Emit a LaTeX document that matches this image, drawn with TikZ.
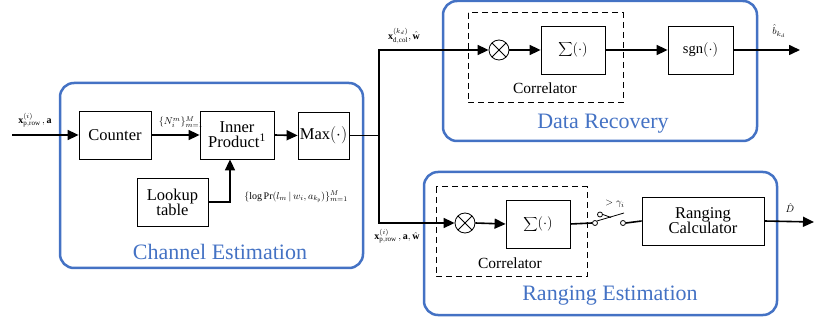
\documentclass[tikz,border=0pt]{standalone}
\usepackage{fontspec}
\setmainfont{Liberation Serif}
\usetikzlibrary{arrows.meta,calc}
\definecolor{pblue}{RGB}{68,114,196}
\tikzset{
  blk/.style={draw,line width=0.8pt,align=center,inner sep=1pt,font=\fontsize{16.5}{17}\selectfont},
  grp/.style={draw=pblue,line width=2.5pt,rounded corners=14pt},
  grplabel/.style={text=pblue,font=\fontsize{22}{23}\selectfont},
  dbox/.style={draw,dashed,line width=1pt,dash pattern=on 6pt off 4pt},
  wire/.style={line width=1.6pt},
  arr/.style={wire,-{Triangle[length=11pt,width=10pt]}},
  mlab/.style={font=\fontsize{10}{11}\selectfont,inner sep=0pt},
  mult/.style={draw,circle,line width=0.8pt,minimum size=20pt,inner sep=0pt,
    path picture={\draw[line width=0.8pt] (path picture bounding box.north west)--(path picture bounding box.south east)
      (path picture bounding box.north east)--(path picture bounding box.south west);}},
  contact/.style={draw,circle,line width=0.8pt,fill=white,minimum size=5pt,inner sep=0pt},
}
\begin{document}
\begin{tikzpicture}[x=1pt,y=-1pt]
\useasboundingbox (0,0) rectangle (815,326);
% group boxes
\node[grp,minimum width=303pt,minimum height=185pt] (ce) at (211.5,175.5) {};
\node[grp,minimum width=314pt,minimum height=140pt] (dr) at (600,71) {};
\node[grp,minimum width=353pt,minimum height=143pt] (re) at (600.5,243.5) {};
\node[grplabel] (cel) at (220,252) {Channel Estimation};
\node[grplabel] (drl) at (603,124) {Data Recovery};
\node[grplabel] (rel) at (610,296) {Ranging Estimation};
% channel estimation blocks
\node[blk,minimum width=72pt,minimum height=48pt] (counter) at (115,135) {Counter};
\node[blk,minimum width=74pt,minimum height=48pt] (inner) at (237,135) {Inner\\[-2pt]Product\textsuperscript{1}};
\node[blk,minimum width=51pt,minimum height=47pt] (maxn) at (323.5,135.5) {Max$(\cdot)$};
\node[blk,minimum width=71pt,minimum height=48pt] (lookup) at (172.5,202) {Lookup\\[-2pt]table};
\coordinate (in) at (12,135);
\draw[arr] (in) -- (counter.west);
\draw[arr] (counter.east) -- (inner.west);
\draw[arr] (inner.east) -- (maxn.west);
\draw[arr] (lookup.east) -| ([xshift=-7pt]inner.south);
\node[mlab] (l1) at (35,120) {$\mathbf{x}_{\mathrm{p,row}}^{(i)}\,,\mathbf{a}$};
\node[mlab] (l2) at (181,122) {$\{N_i^m\}_{m=1}^{M}$};
\node[mlab] (l3) at (296,197) {$\{\log\mathrm{Pr}(l_m\,|\,w_i,a_{k_{\mathrm{p}}})\}_{m=1}^{M}$};
% split
\coordinate (j) at (379,135.5);
\draw[wire] (maxn.east) -- (j);
% data recovery
\draw[dbox] (468,13) rectangle (623,103);
\node[font=\fontsize{15.5}{16}\selectfont] (cor1) at (545,88) {Correlator};
\node[mult] (m1) at (499,50) {};
\node[blk,minimum width=64pt,minimum height=48pt,font=\fontsize{15}{16}\selectfont] (s1) at (573,50) {$\displaystyle\sum(\cdot)$};
\node[blk,minimum width=65pt,minimum height=48pt,font=\fontsize{14.5}{15}\selectfont] (sgn) at (700.5,50) {sgn$(\cdot)$};
\coordinate (o1) at (800,50);
\draw[arr] (j) |- (m1.west);
\draw[arr] (m1.east) -- (s1.west);
\draw[arr] (s1.east) -- (sgn.west);
\draw[arr] (sgn.east) -- (o1);
\node[mlab] (l4) at (404,36) {$\mathbf{x}_{\mathrm{d,col}}^{(k_d)},\hat{\mathbf{w}}$};
\node[mlab] (l5) at (779,31) {$\hat{b}_{k_d}$};
% ranging estimation
\draw[dbox] (436,187) rectangle (587,277);
\node[font=\fontsize{15.5}{16}\selectfont] (cor2) at (510,263) {Correlator};
\node[mult] (m2) at (465,223) {};
\node[blk,minimum width=64pt,minimum height=48pt,font=\fontsize{15}{16}\selectfont] (s2) at (538,224) {$\displaystyle\sum(\cdot)$};
\node[blk,minimum width=122pt,minimum height=48pt] (calc) at (703,221) {Ranging\\[-2pt]Calculator};
\coordinate (o2) at (814,222);
\draw[arr] (j) |- (m2.west);
\draw[arr] (m2.east) -- (s2.west);
\node[contact] (swa) at (595,223) {};
\node[contact] (swb) at (623,223) {};
\node[contact] (swc) at (600,214.5) {};
\coordinate (bt) at (624,213);
\draw[wire] (s2.east) -- (swa.west);
\draw[line width=0.8pt] (swa.north east) -- (bt);
\draw[line width=0.8pt] (swc.east) -- (611,217.5);
\draw[wire] (swb.east) -- (calc.west);
\draw[arr] (calc.east) -- (o2);
\node[mlab] (l6) at (397,236) {$\mathbf{x}_{\mathrm{p,row}}^{(i)}\,,\mathbf{a},\hat{\mathbf{w}}$};
\node[mlab] (l7) at (790,208) {$\hat{D}$};
\node[mlab] (l8) at (615,204) {$>\gamma_i$};
\end{tikzpicture}
\end{document}
